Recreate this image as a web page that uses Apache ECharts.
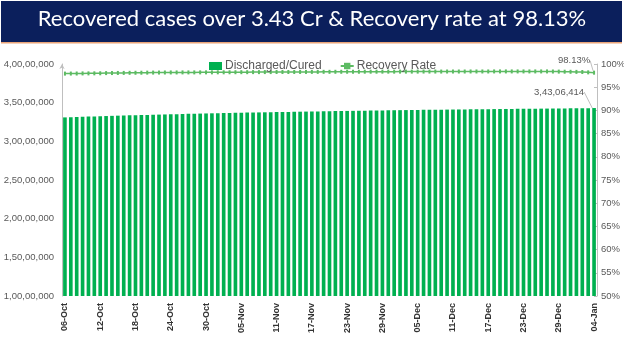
<!DOCTYPE html>
<html>
<head>
<meta charset="utf-8">
<script src="https://cdn.jsdelivr.net/npm/echarts@6/dist/echarts.min.js"></script>
<style>
  html, body { margin: 0; padding: 0; background: #fff; }
  #chart { width: 624px; height: 341px; }
</style>
</head>
<body>
<div id="chart"></div>
<script>
// Daily dates, 06-Oct to 04-Jan
const dates = [
  '06-Oct','07-Oct','08-Oct','09-Oct','10-Oct','11-Oct','12-Oct','13-Oct','14-Oct','15-Oct',
  '16-Oct','17-Oct','18-Oct','19-Oct','20-Oct','21-Oct','22-Oct','23-Oct','24-Oct','25-Oct',
  '26-Oct','27-Oct','28-Oct','29-Oct','30-Oct','31-Oct',
  '01-Nov','02-Nov','03-Nov','04-Nov','05-Nov','06-Nov','07-Nov','08-Nov','09-Nov','10-Nov',
  '11-Nov','12-Nov','13-Nov','14-Nov','15-Nov','16-Nov','17-Nov','18-Nov','19-Nov','20-Nov',
  '21-Nov','22-Nov','23-Nov','24-Nov','25-Nov','26-Nov','27-Nov','28-Nov','29-Nov','30-Nov',
  '01-Dec','02-Dec','03-Dec','04-Dec','05-Dec','06-Dec','07-Dec','08-Dec','09-Dec','10-Dec',
  '11-Dec','12-Dec','13-Dec','14-Dec','15-Dec','16-Dec','17-Dec','18-Dec','19-Dec','20-Dec',
  '21-Dec','22-Dec','23-Dec','24-Dec','25-Dec','26-Dec','27-Dec','28-Dec','29-Dec','30-Dec',
  '31-Dec','01-Jan','02-Jan','03-Jan','04-Jan'
];

// Cumulative discharged / cured
const discharged = [
  33094529,33120529,33146029,33171229,33196029,33221329,33246229,33270929,33295429,33319529,
  33340029,33360229,33380129,33399729,33419429,33438829,33457929,33476929,33495729,33514629,
  33533229,33551629,33570129,33588329,33606229,33624029,
  33639229,33654229,33669029,33683629,33698029,33712329,33726429,33740429,33754229,33767929,
  33781429,33794829,33808029,33821129,33834029,33846729,33859329,33871729,33884029,33896229,
  33908329,33920329,33932229,33944029,33955729,33967329,33978829,33990229,34001529,34012729,
  34022329,34031829,34041229,34050529,34059729,34068829,34077829,34086729,34095529,34104229,
  34112829,34121329,34129729,34138029,34146229,34154229,34162129,34169929,34177629,34185229,
  34192729,34200129,34207429,34214629,34221729,34228729,34235629,34242529,34249529,34256729,
  34264129,34271729,34279729,34292429,34306414
];

// Recovery rate (%)
const recoveryRate = [
  97.93,97.94,97.95,97.97,97.98,97.99,98.00,98.04,98.05,98.07,
  98.08,98.10,98.11,98.12,98.14,98.15,98.16,98.17,98.18,98.18,
  98.19,98.19,98.19,98.20,98.20,98.20,
  98.21,98.21,98.22,98.23,98.24,98.24,98.25,98.25,98.26,98.26,
  98.27,98.27,98.28,98.28,98.29,98.29,98.30,98.30,98.31,98.31,
  98.32,98.32,98.33,98.33,98.33,98.34,98.34,98.34,98.35,98.35,
  98.35,98.36,98.36,98.36,98.36,98.37,98.37,98.37,98.37,98.38,
  98.38,98.38,98.38,98.39,98.39,98.39,98.39,98.40,98.40,98.40,
  98.40,98.40,98.40,98.40,98.40,98.40,98.40,98.38,98.36,98.34,
  98.32,98.30,98.27,98.20,98.13
];

const titleText = 'Recovered cases over 3.43 Cr & Recovery rate at 98.13%';

// Indian digit grouping: 3,43,06,414
function indianFormat(n) {
  const s = String(Math.round(n));
  if (s.length <= 3) return s;
  const last3 = s.slice(-3);
  let rest = s.slice(0, -3);
  const parts = [];
  while (rest.length > 2) {
    parts.unshift(rest.slice(-2));
    rest = rest.slice(0, -2);
  }
  if (rest) parts.unshift(rest);
  return parts.join(',') + ',' + last3;
}

const lastIdx = dates.length - 1;
const barColor = '#00B050';
const lineColor = '#5DBB63';
const axisGray = '#BFBFBF';
const labelGray = '#595959';

const chart = echarts.init(document.getElementById('chart'), null, { renderer: 'canvas' });

chart.setOption({
  animation: false,
  backgroundColor: '#ffffff',
  textStyle: { fontFamily: 'Liberation Sans, Arial, sans-serif' },
  graphic: [
    { type: 'rect', shape: { x: 1, y: 1, width: 621, height: 41 }, style: { fill: '#0B1F5C' }, silent: true },
    { type: 'rect', shape: { x: 1, y: 42, width: 621, height: 1.5 }, style: { fill: '#E9A478' }, silent: true },
    {
      type: 'text', left: 'center', top: 8,
      style: { text: titleText, fill: '#ffffff', font: '22px Lato, "Open Sans", sans-serif' }
    }
  ],
  legend: {
    top: 55,
    left: 204,
    itemGap: 18,
    itemWidth: 13,
    itemHeight: 8,
    textStyle: { color: labelGray, fontSize: 12, padding: [0, 0, 0, -2] },
    data: [
      { name: 'Discharged/Cured', icon: 'rect' },
      { name: 'Recovery Rate' }
    ]
  },
  grid: { left: 62, right: 27, top: 64, bottom: 45, outerBoundsMode: 'none' },
  xAxis: {
    type: 'category',
    data: dates,
    axisLine: { show: false },
    axisTick: { show: false },
    axisLabel: {
      interval: 5,
      rotate: 90,
      fontSize: 9,
      fontWeight: 'bold',
      color: '#333333',
      margin: 7
    }
  },
  yAxis: [
    {
      type: 'value',
      min: 10000000,
      max: 40000000,
      interval: 5000000,
      axisLine: { show: true, lineStyle: { color: axisGray }, symbol: ['none', 'arrow'], symbolSize: [4, 5] },
      axisTick: { show: false },
      splitLine: { show: false },
      axisLabel: { color: labelGray, fontSize: 9.5, margin: 8, formatter: v => indianFormat(v) }
    },
    {
      type: 'value',
      min: 50,
      max: 100,
      interval: 5,
      position: 'right',
      axisLine: { show: true, lineStyle: { color: axisGray } },
      axisTick: { show: true, length: 3, inside: true, lineStyle: { color: axisGray } },
      splitLine: { show: false },
      axisLabel: { color: labelGray, fontSize: 9.5, margin: 4, formatter: v => v + '%' }
    }
  ],
  series: [
    {
      name: 'Discharged/Cured',
      type: 'bar',
      yAxisIndex: 0,
      barCategoryGap: '38%',
      itemStyle: { color: barColor },
      data: discharged.map((v, i) => i === lastIdx ? {
        value: v,
        label: {
          show: true,
          position: 'top',
          color: labelGray,
          fontSize: 9.5,
          formatter: p => indianFormat(p.value)
        },
        labelLine: { show: true, lineStyle: { color: axisGray, width: 1 } }
      } : v),
      labelLayout: p => p.dataIndex === lastIdx ? { dx: -35, dy: -6 } : {},
      labelLine: { show: true, lineStyle: { color: axisGray } }
    },
    {
      name: 'Recovery Rate',
      type: 'line',
      yAxisIndex: 1,
      z: 3,
      symbol: 'rect',
      symbolSize: [2, 4],
      showAllSymbol: true,
      lineStyle: { color: lineColor, width: 1.5 },
      itemStyle: { color: lineColor },
      data: recoveryRate.map((v, i) => i === lastIdx ? {
        value: v,
        label: {
          show: true,
          position: 'top',
          color: labelGray,
          fontSize: 9.5,
          formatter: p => p.value.toFixed(2) + '%'
        },
        labelLine: { show: true, lineStyle: { color: axisGray, width: 1 } }
      } : v),
      labelLayout: p => p.dataIndex === lastIdx ? { dx: -20, dy: 0 } : {},
      labelLine: { show: true, lineStyle: { color: axisGray } }
    }
  ]
});
</script>
</body>
</html>
